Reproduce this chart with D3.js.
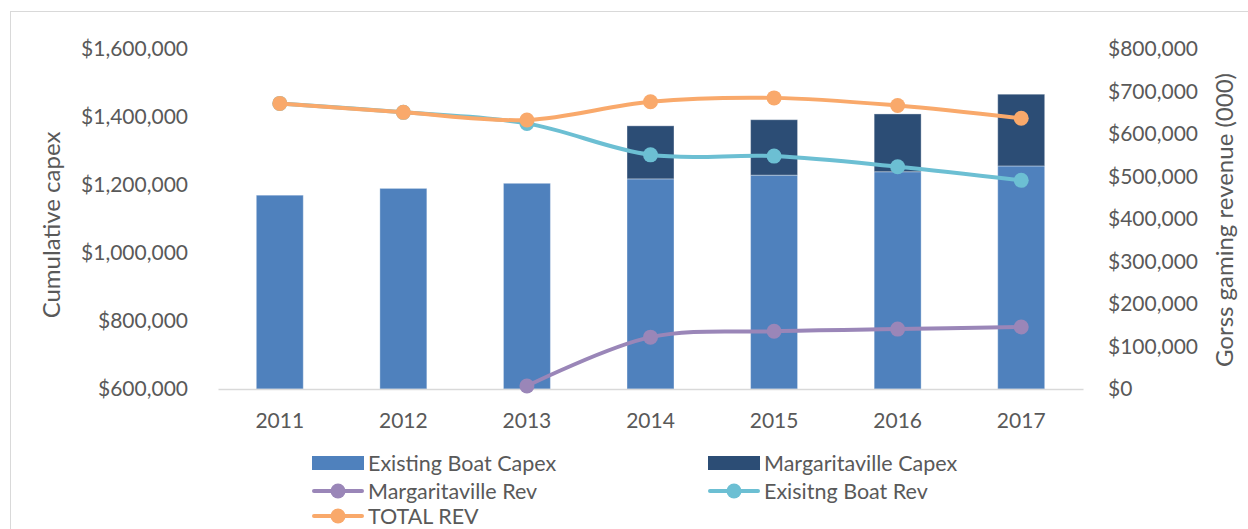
<!DOCTYPE html>
<html>
<head>
<meta charset="utf-8">
<script src="https://cdn.jsdelivr.net/npm/d3@7"></script>
<style>
  body { margin: 0; background: #fff; }
  text { font-family: Lato, "Open Sans", sans-serif; fill: #595959; }
</style>
</head>
<body>
<div class="chart"></div>
<script>
var years = ['2011', '2012', '2013', '2014', '2015', '2016', '2017'];
var existingCapex = [1170000, 1190000, 1205000, 1218000, 1229000, 1239000, 1256000];
var margCapex = [0, 0, 0, 156000, 163000, 170000, 211000];
var margRev = [null, null, 7000, 122000, 136000, 141000, 146000];
var existingRev = [672000, 651000, 625000, 551000, 548000, 523000, 491000];
var totalRev = [672000, 651000, 633000, 676000, 685000, 667000, 637000];
var leftTicks = [600000, 800000, 1000000, 1200000, 1400000, 1600000];
var rightTicks = [0, 100000, 200000, 300000, 400000, 500000, 600000, 700000, 800000];

document.addEventListener("DOMContentLoaded", draw)
function draw(){
  var width = 1248, height = 529,
      left = 218, right = 1083, top = 49, bottom = 389;

  var svg = d3.select(".chart").append("svg")
    .attr("width", width)
    .attr("height", height)

  // outer frame of the chart area
  svg.append("rect")
    .attr("x", 10.5).attr("y", 11.5)
    .attr("width", 1300).attr("height", 600)
    .attr("fill", "none").attr("stroke", "#d9d9d9")

  var x = d3.scaleBand().domain(years).range([left, right])
        .paddingInner(0.62).paddingOuter(0.31),
      yL = d3.scaleLinear().domain([600000, 1600000]).range([bottom, top]),
      yR = d3.scaleLinear().domain([0, 800000]).range([bottom, top]),
      money = function(d){ return "$" + d3.format(",")(d) }

  var colors = {
    existCapex: "#4f81bd", margCapex: "#2c4d75",
    margRev: "#9a86b8", existRev: "#6cbfd3", totalRev: "#f9a96b"
  }

  // axes
  var ax = svg.append("g").attr("transform", `translate(${left},0)`)
    .call(d3.axisLeft(yL).tickValues(leftTicks).tickFormat(money).tickSize(0).tickPadding(30))
  ax.select(".domain").remove()
  ax.selectAll("text").style("font-size", "21px").style("font-family", "Lato")

  var ar = svg.append("g").attr("transform", `translate(${right},0)`)
    .call(d3.axisRight(yR).tickValues(rightTicks).tickFormat(money).tickSize(0).tickPadding(25))
  ar.select(".domain").remove()
  ar.selectAll("text").style("font-size", "21px").style("font-family", "Lato")

  // bars
  var stack = years.map(function(y, i){ return { year: y, a: existingCapex[i], b: margCapex[i] } })
  var bars = svg.append("g")
  bars.selectAll(".ex").data(stack).enter().append("rect")
    .attr("x", function(d){ return x(d.year) })
    .attr("width", x.bandwidth())
    .attr("y", function(d){ return yL(d.a) })
    .attr("height", function(d){ return yL(600000) - yL(d.a) })
    .attr("fill", colors.existCapex)
    .attr("stroke", "rgba(255,255,255,0.35)")
  bars.selectAll(".mg").data(stack.filter(function(d){ return d.b > 0 })).enter().append("rect")
    .attr("x", function(d){ return x(d.year) })
    .attr("width", x.bandwidth())
    .attr("y", function(d){ return yL(d.a + d.b) })
    .attr("height", function(d){ return yL(d.a) - yL(d.a + d.b) })
    .attr("fill", colors.margCapex)
    .attr("stroke", "rgba(255,255,255,0.35)")

  var ab = svg.append("g").attr("transform", `translate(0,${bottom})`)
    .call(d3.axisBottom(x).tickSize(0).tickSizeOuter(0).tickPadding(24))
  ab.select(".domain").attr("stroke", "#d9d9d9").attr("stroke-width", 1.5)
  ab.selectAll("text").style("font-size", "21px").style("font-family", "Lato")

  // lines
  var cx = function(i){ return x(years[i]) + x.bandwidth() / 2 }
  var line = d3.line()
    .defined(function(d){ return d != null })
    .x(function(d, i){ return cx(i) })
    .y(function(d){ return yR(d) })
    .curve(d3.curveCatmullRom.alpha(0.5))

  var series = [
    { vals: margRev, color: colors.margRev },
    { vals: existingRev, color: colors.existRev },
    { vals: totalRev, color: colors.totalRev }
  ]
  series.forEach(function(s){
    var g = svg.append("g")
    g.append("path").datum(s.vals)
      .attr("d", line)
      .attr("fill", "none")
      .attr("stroke", s.color)
      .attr("stroke-width", 4)
    g.selectAll("circle").data(s.vals.map(function(v, i){ return { v: v, i: i } }).filter(function(d){ return d.v != null }))
      .enter().append("circle")
      .attr("cx", function(d){ return cx(d.i) })
      .attr("cy", function(d){ return yR(d.v) })
      .attr("r", 7.5)
      .attr("fill", s.color)
  })

  // axis titles
  svg.append("text")
    .attr("transform", "translate(60,225) rotate(-90)")
    .attr("text-anchor", "middle")
    .style("font-size", "24px")
    .text("Cumulative capex")
  svg.append("text")
    .attr("transform", "translate(1233,220) rotate(-90)")
    .attr("text-anchor", "middle")
    .style("font-size", "24px")
    .text("Gorss gaming revenue (000)")

  // legend
  var legend = [
    { name: "Existing Boat Capex", color: colors.existCapex, type: "bar", x: 312, y: 463 },
    { name: "Margaritaville Capex", color: colors.margCapex, type: "bar", x: 708, y: 463 },
    { name: "Margaritaville Rev", color: colors.margRev, type: "line", x: 312, y: 491 },
    { name: "Exisitng Boat Rev", color: colors.existRev, type: "line", x: 708, y: 491 },
    { name: "TOTAL REV", color: colors.totalRev, type: "line", x: 312, y: 516 }
  ]
  var lg = svg.append("g").selectAll("g").data(legend).enter().append("g")
    .attr("transform", function(d){ return `translate(${d.x},${d.y})` })
  lg.filter(function(d){ return d.type == "bar" }).append("rect")
    .attr("x", 0).attr("y", -7).attr("width", 52).attr("height", 14)
    .attr("fill", function(d){ return d.color })
  lg.filter(function(d){ return d.type == "line" }).append("line")
    .attr("x1", 2).attr("x2", 50)
    .attr("stroke", function(d){ return d.color })
    .attr("stroke-width", 4).attr("stroke-linecap", "round")
  lg.filter(function(d){ return d.type == "line" }).append("circle")
    .attr("cx", 26).attr("r", 7.5)
    .attr("fill", function(d){ return d.color })
  lg.append("text")
    .attr("x", 56).attr("dy", "0.35em")
    .style("font-size", "21.5px")
    .text(function(d){ return d.name })
}
</script>
</body>
</html>
